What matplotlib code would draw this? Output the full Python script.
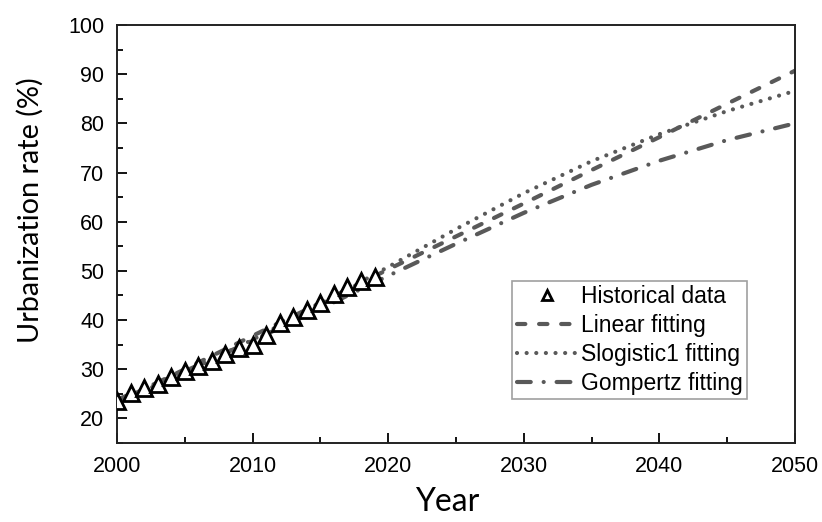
import numpy as np
import matplotlib
matplotlib.use('Agg')
import matplotlib.pyplot as plt
from matplotlib.ticker import MultipleLocator

plt.rcParams['font.family'] = ['Liberation Sans', 'DejaVu Sans']

# Historical data
hist_years = list(range(2000, 2020))
hist_rate = [23.6, 25.1, 26.2, 27.0, 28.5, 29.7, 30.7, 31.7, 33.2, 34.3,
             34.9, 37.0, 39.5, 40.6, 42.1, 43.5, 45.3, 46.8, 48.0, 48.8]

# Fitted curves
fit_years = list(range(2000, 2051, 5))
linear_fit = [23.3, 30.0, 36.8, 43.5, 50.3, 57.0, 63.7, 70.5, 77.2, 84.0, 90.7]
slogistic_fit = [23.2, 29.3, 36.0, 43.3, 50.8, 58.5, 65.8, 72.3, 77.8, 82.5, 86.6]
gompertz_fit = [23.8, 29.6, 35.8, 42.3, 49.0, 55.5, 61.8, 67.5, 72.4, 76.6, 80.0]

fig = plt.figure(figsize=(8.22, 5.22), dpi=100)
ax = fig.add_axes([0.1423, 0.1513, 0.8248, 0.8008])

c = '#595959'
lw = 3.0
ax.plot(fit_years, linear_fit, color=c, lw=lw, dashes=(2.0, 3.3),
        dash_capstyle='round', label='Linear fitting')
ax.plot(fit_years, slogistic_fit, color=c, lw=lw, dashes=(0.01, 2.3),
        dash_capstyle='round', label='Slogistic1 fitting')
ax.plot(fit_years, gompertz_fit, color=c, lw=lw, dashes=(3.3, 3.1, 0.01, 3.1),
        dash_capstyle='round', label='Gompertz fitting')
ax.plot(hist_years, hist_rate, ls='none', marker='^', ms=11, mfc='white',
        mec='black', mew=2, label='Historical data', zorder=5)

ax.set_xlim(2000, 2050)
ax.set_ylim(15, 100)
ax.xaxis.set_major_locator(MultipleLocator(10))
ax.xaxis.set_minor_locator(MultipleLocator(5))
ax.yaxis.set_minor_locator(MultipleLocator(5))
ax.set_yticks(range(20, 101, 10))
ax.tick_params(which='both', direction='in', width=1.3, labelsize=15.5, pad=9)
ax.tick_params(which='major', length=7)
ax.tick_params(which='minor', length=4)
for s in ax.spines.values():
    s.set_linewidth(1.4)
    s.set_color('#222222')

ax.set_xlabel('Year', fontsize=23, family=['Lato', 'DejaVu Sans'])
ax.xaxis.set_label_coords(0.487, -0.105)
ax.set_ylabel('Urbanization rate (%)', fontsize=20.8, family=['Lato', 'DejaVu Sans'])
ax.yaxis.set_label_coords(-0.108, 0.557)

handles, labels = ax.get_legend_handles_labels()
order = [3, 0, 1, 2]
leg = ax.legend([handles[i] for i in order], [labels[i] for i in order],
                loc='lower left', bbox_to_anchor=(0.5826, 0.105), fontsize=16.5,
                frameon=True, fancybox=False, handlelength=2.7, handletextpad=0.1,
                borderpad=0.2, labelspacing=0.25, markerscale=0.7,
                borderaxespad=0)
leg.get_frame().set_edgecolor('#888888')
leg.get_frame().set_linewidth(1.2)

plt.savefig('out.png', dpi=100)
